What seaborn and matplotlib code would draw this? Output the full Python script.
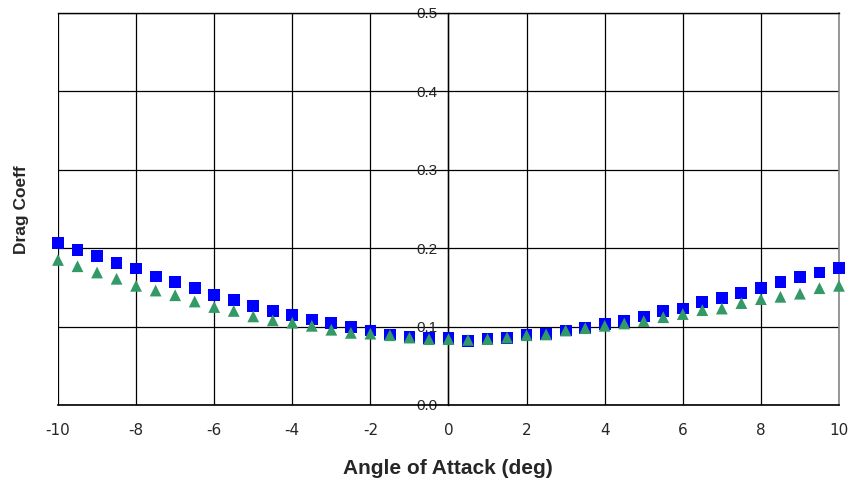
import matplotlib
matplotlib.use("Agg")
import matplotlib.pyplot as plt
import seaborn as sns
import pandas as pd
import numpy as np

angle = [-10, -9.5, -9, -8.5, -8, -7.5, -7, -6.5, -6, -5.5, -5, -4.5, -4, -3.5, -3, -2.5, -2, -1.5, -1, -0.5,
         0, 0.5, 1, 1.5, 2, 2.5, 3, 3.5, 4, 4.5, 5, 5.5, 6, 6.5, 7, 7.5, 8, 8.5, 9, 9.5, 10]
drag_blue = [0.207, 0.198, 0.190, 0.181, 0.174, 0.164, 0.157, 0.149, 0.140, 0.134, 0.126, 0.120, 0.115, 0.109,
             0.105, 0.099, 0.095, 0.090, 0.087, 0.085, 0.085, 0.082, 0.084, 0.085, 0.090, 0.091, 0.095, 0.098,
             0.103, 0.107, 0.113, 0.120, 0.123, 0.131, 0.136, 0.143, 0.149, 0.157, 0.163, 0.169, 0.175]
drag_green = [0.185, 0.177, 0.169, 0.161, 0.152, 0.146, 0.140, 0.132, 0.125, 0.120, 0.113, 0.108, 0.105, 0.101,
              0.096, 0.092, 0.091, 0.089, 0.086, 0.084, 0.084, 0.083, 0.084, 0.086, 0.089, 0.090, 0.095, 0.098,
              0.101, 0.104, 0.107, 0.112, 0.116, 0.121, 0.123, 0.130, 0.135, 0.138, 0.142, 0.149, 0.152]
x_ticks = [-10, -8, -6, -4, -2, 0, 2, 4, 6, 8, 10]
y_ticks = [0.0, 0.1, 0.2, 0.3, 0.4, 0.5]

sns.set_style("white")
plt.rcParams['font.family'] = ['Liberation Sans', 'DejaVu Sans']

fig = plt.figure(figsize=(8.54, 4.84), dpi=100)
ax = fig.add_axes([58/854, 1-405/484, (839-58)/854, (405-13)/484])

df_b = pd.DataFrame({"angle": angle, "cd": drag_blue})
df_g = pd.DataFrame({"angle": angle, "cd": drag_green})
sns.scatterplot(data=df_b, x="angle", y="cd", ax=ax, marker="s", color="#0000FF", s=72,
                edgecolor="none", zorder=3, clip_on=False)
sns.scatterplot(data=df_g, x="angle", y="cd", ax=ax, marker="^", color="#339966", s=72,
                edgecolor="none", zorder=4, clip_on=False)

ax.set_xlim(-10, 10)
ax.set_ylim(0, 0.5)
ax.set_xticks(x_ticks)
ax.set_yticks(y_ticks)
ax.set_xticklabels([str(t) for t in x_ticks], family="DejaVu Sans")
ax.set_yticklabels([f"{t:.1f}" for t in y_ticks], family="DejaVu Sans")
ax.grid(True, color="black", linewidth=0.9)
ax.set_axisbelow(True)

ax.spines["top"].set_color("black")
ax.spines["top"].set_linewidth(1.0)
ax.spines["right"].set_color("#888888")
ax.spines["right"].set_linewidth(1.2)
ax.spines["left"].set_position(("data", 0))
ax.spines["left"].set_color("black")
ax.spines["left"].set_linewidth(1.0)
ax.spines["bottom"].set_color("black")
ax.spines["bottom"].set_linewidth(1.2)

ax.tick_params(axis="x", length=0, pad=13, labelsize=11)
ax.tick_params(axis="y", length=0, pad=8, labelsize=11)

ax.set_xlabel("")
ax.set_ylabel("")
fig.text(448/854, 1-474/484, "Angle of Attack (deg)", ha="center", va="baseline",
         fontsize=15, fontweight="bold")
fig.text(22/854, 1-210/484, "Drag Coeff", rotation=90, ha="center", va="center",
         fontsize=12.5, fontweight="bold")

fig.savefig("out.png", dpi=100)
